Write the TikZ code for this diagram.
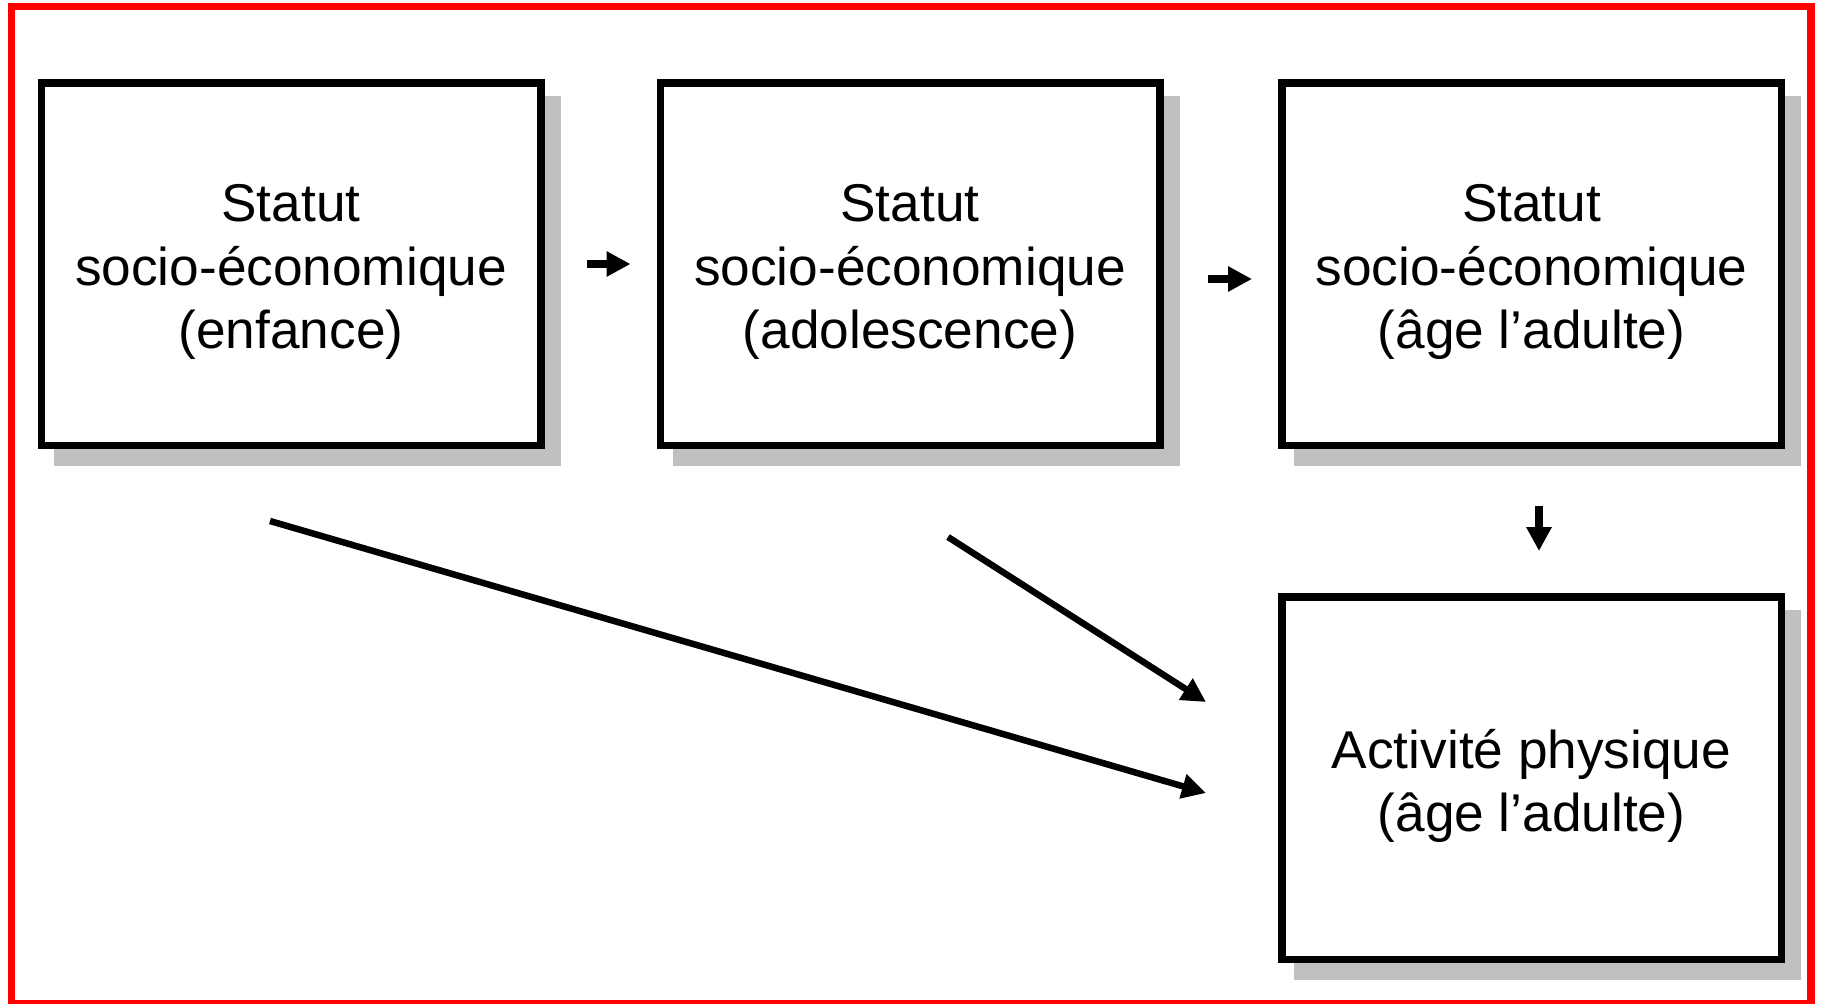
\documentclass[tikz,border=0pt]{standalone}
\usepackage{fontspec}
\setmainfont{Liberation Sans}
\usetikzlibrary{arrows.meta,backgrounds,calc}
\definecolor{frameColor}{HTML}{FF0000}
\definecolor{shadowColor}{HTML}{C0C0C0}
\tikzset{
	stage text/.style={align=center, inner sep=0, yshift=-4pt,
		font=\fontsize{26.6}{31.75}\selectfont},
	stage/.style={draw, line width=3.75pt, fill=white, inner sep=0,
		minimum width=249.75pt, minimum height=181.25pt,
		label={[stage text]center:#1}},
	short arrow/.style={line width=3.75pt, -{Triangle[length=12pt,width=12pt]}},
	long arrow/.style={line width=3.25pt, -{Triangle[length=12pt,width=12pt]}},
	frame/.style={draw=frameColor, line width=3.75pt}
}

\begin{document}
\begin{tikzpicture}[x=0.5pt, y=-0.5pt]
	\useasboundingbox (0,0) rectangle (1822,1003);
	\draw[frame] (11.5,6.5) rectangle (1811,1003.5);
	\node[stage={Statut\\socio-économique\\(enfance)}] (b1) at (291, 264) {};
	\node[stage={Statut\\socio-économique\\(adolescence)}] (b2) at (910, 264) {};
	\node[stage={Statut\\socio-économique\\(âge l’adulte)}] (b3) at (1531.5, 264) {};
	\node[stage={Activité physique\\(âge l’adulte)}] (b4) at (1531.5, 778) {};
	\begin{scope}[on background layer]
		\foreach \b in {b1,b2,b3,b4}
			\fill[shadowColor] ($(\b.north west)+(16,17)$) rectangle ($(\b.south east)+(16,17)$);
	\end{scope}
	\coordinate (from1) at ($(b1.south)+(-21,72)$);
	\coordinate (to1) at ($(b4.west)+(-72,15)$);
	\coordinate (from2) at ($(b2.south)+(38,88)$);
	\coordinate (to2) at ($(b4.west)+(-72,-76)$);
	\draw[short arrow, shorten <=21pt, shorten >=13pt] (b1.east) -- (b2.west);
	\draw[short arrow, shorten <=22pt, shorten >=13pt] ([yshift=-7.5pt]b2.east) -- ([yshift=-7.5pt]b3.west);
	\draw[short arrow, shorten <=28.5pt, shorten >=21pt] ([xshift=3.75pt]b3.south) -- ([xshift=3.75pt]b4.north);
	\draw[long arrow] (from1) -- (to1);
	\draw[long arrow] (from2) -- (to2);
\end{tikzpicture}
\end{document}
